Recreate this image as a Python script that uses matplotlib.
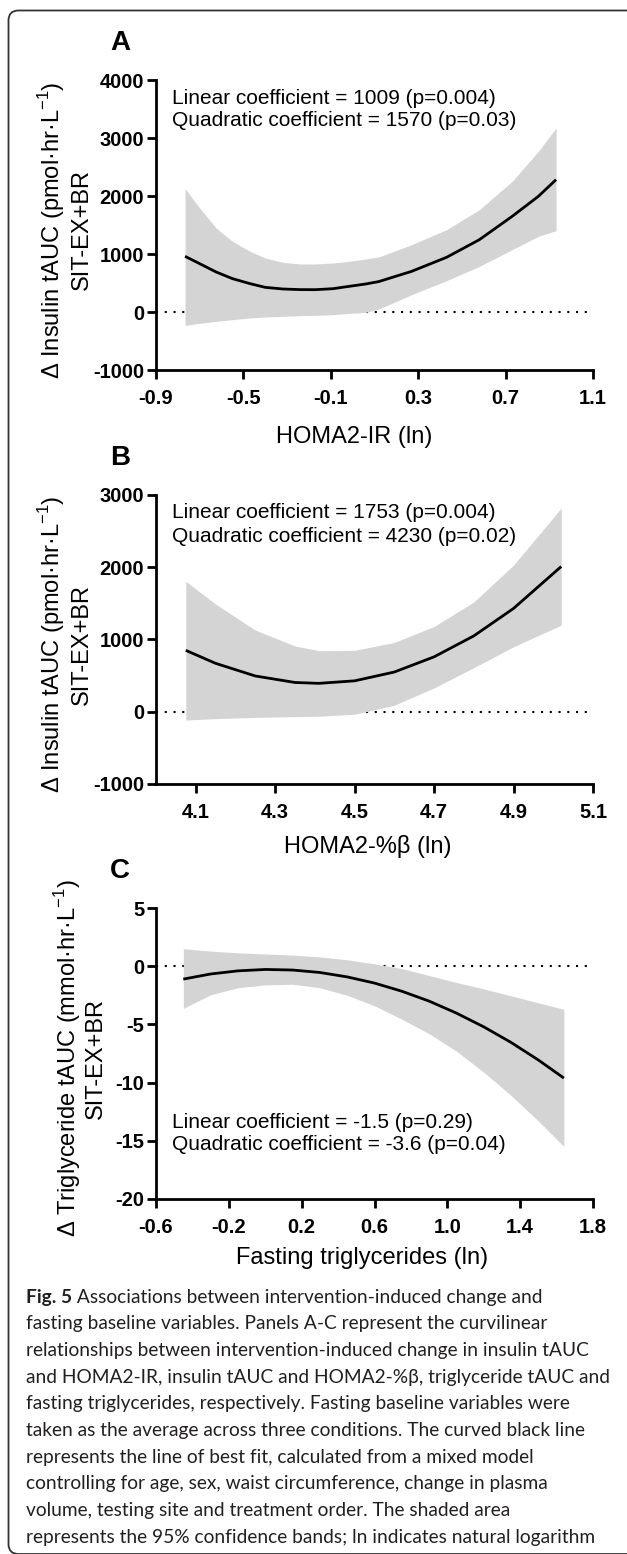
import matplotlib
matplotlib.use("Agg")
import matplotlib.pyplot as plt
from matplotlib.patches import FancyBboxPatch
from matplotlib.ticker import FormatStrFormatter

plt.rcParams['font.family'] = ['Liberation Sans', 'DejaVu Sans']
plt.rcParams['axes.unicode_minus'] = False
plt.rcParams['mathtext.fontset'] = 'custom'
plt.rcParams['mathtext.rm'] = 'Liberation Sans'

W, H = 627, 1554
DPI = 100

# panel A: HOMA2-IR
a_x = [-0.767, -0.70, -0.625, -0.55, -0.47, -0.40, -0.32, -0.24, -0.17, -0.09,
       -0.015, 0.06, 0.12, 0.27, 0.43, 0.58, 0.73, 0.85, 0.931]
a_fit = [960, 833, 690, 575, 489, 425, 397, 386, 385, 402,
         443, 483, 525, 701, 943, 1247, 1649, 1994, 2282]
a_hi = [2126, 1793, 1448, 1218, 1046, 931, 856, 828, 828, 845,
        874, 914, 950, 1161, 1420, 1764, 2253, 2770, 3172]
a_lo = [-230, -195, -161, -132, -103, -86, -75, -63, -57, -46,
        -23, -6, 50, 299, 540, 787, 1075, 1305, 1402]

# panel B: HOMA2-%beta
b_x = [4.075, 4.15, 4.25, 4.35, 4.41, 4.5, 4.6, 4.7, 4.8, 4.9, 5.02]
b_fit = [850, 670, 495, 405, 393, 428, 550, 760, 1050, 1430, 2010]
b_hi = [1806, 1490, 1130, 910, 845, 850, 960, 1180, 1520, 2030, 2820]
b_lo = [-115, -95, -78, -68, -62, -35, 90, 330, 610, 900, 1198]

# panel C: fasting triglycerides
c_x = [-0.45, -0.3, -0.15, 0.0, 0.15, 0.3, 0.45, 0.6, 0.75, 0.9, 1.05, 1.2, 1.35, 1.5, 1.64]
c_fit = [-1.11, -0.67, -0.40, -0.28, -0.33, -0.54, -0.92, -1.45, -2.15, -3.00,
         -4.03, -5.21, -6.55, -8.06, -9.61]
c_hi = [1.5, 1.3, 1.15, 1.05, 0.95, 0.8, 0.55, 0.2, -0.2, -0.8,
        -1.4, -1.95, -2.55, -3.15, -3.7]
c_lo = [-3.63, -2.45, -1.85, -1.6, -1.55, -1.85, -2.5, -3.4, -4.55, -5.8,
        -7.3, -9.1, -11.1, -13.3, -15.49]

a_xticks = [-0.9, -0.5, -0.1, 0.3, 0.7, 1.1]
a_yticks = [-1000, 0, 1000, 2000, 3000, 4000]
b_xticks = [4.1, 4.3, 4.5, 4.7, 4.9, 5.1]
b_yticks = [-1000, 0, 1000, 2000, 3000]
c_xticks = [-0.6, -0.2, 0.2, 0.6, 1.0, 1.4, 1.8]
c_yticks = [-20, -15, -10, -5, 0, 5]

a_notes = ["Linear coefficient = 1009 (p=0.004)", "Quadratic coefficient = 1570 (p=0.03)"]
b_notes = ["Linear coefficient = 1753 (p=0.004)", "Quadratic coefficient = 4230 (p=0.02)"]
c_notes = ["Linear coefficient = -1.5 (p=0.29)", "Quadratic coefficient = -3.6 (p=0.04)"]

ins_label = r"$\Delta$ Insulin tAUC (pmol·hr·L$^{\mathregular{-1}}$)"
tg_label = r"$\Delta$ Triglyceride tAUC (mmol·hr·L$^{\mathregular{-1}}$)"

caption = [
    "fasting baseline variables. Panels A-C represent the curvilinear",
    "relationships between intervention-induced change in insulin tAUC",
    "and HOMA2-IR, insulin tAUC and HOMA2-%β, triglyceride tAUC and",
    "fasting triglycerides, respectively. Fasting baseline variables were",
    "taken as the average across three conditions. The curved black line",
    "represents the line of best fit, calculated from a mixed model",
    "controlling for age, sex, waist circumference, change in plasma",
    "volume, testing site and treatment order. The shaded area",
    "represents the 95% confidence bands; ln indicates natural logarithm",
]

fig = plt.figure(figsize=(W / DPI, H / DPI), dpi=DPI)
bg = fig.add_axes([0, 0, 1, 1])
bg.set_xlim(0, W)
bg.set_ylim(H, 0)
bg.axis('off')

bg.add_patch(FancyBboxPatch((8.5, 10.5), 660, 1543.5,
                            boxstyle='round,pad=0,rounding_size=10',
                            fill=False, ec='#333333', lw=1.3))


def panel(top, bottom, x, fit, lo, hi, xlim, xticks, ylim, yticks,
          letter, notes, note_y, ylab, ylab_x, xlab, xlab_x, xlab_y):
    left, right = 156, 593
    ax = fig.add_axes([left / W, 1 - bottom / H, (right - left) / W, (bottom - top) / H])
    ax.axhline(0, color='black', lw=1.5, linestyle=(0, (1, 3.2)), zorder=1)
    ax.fill_between(x, lo, hi, color='#d4d4d4', lw=0, zorder=2)
    ax.plot(x, fit, color='black', lw=2, zorder=3, solid_capstyle='butt')
    ax.set_xlim(*xlim)
    ax.set_ylim(*ylim)
    ax.set_xticks(xticks)
    ax.set_yticks(yticks)
    ax.xaxis.set_major_formatter(FormatStrFormatter('%.1f'))
    ax.yaxis.set_major_formatter(FormatStrFormatter('%d'))
    for s in ['top', 'right']:
        ax.spines[s].set_visible(False)
    for s in ['left', 'bottom']:
        ax.spines[s].set_linewidth(2)
    ax.tick_params(direction='out', length=6.5, width=2, labelsize=14.5, pad=2)
    ax.tick_params(axis='x', pad=7)
    for lab in ax.get_xticklabels() + ax.get_yticklabels():
        lab.set_fontweight('bold')
    ax.patch.set_alpha(0)

    bg.text(120, top - 37, letter, fontsize=20, fontweight='bold', ha='center', va='center')
    bg.text(172, note_y[0], notes[0], fontsize=15, ha='left', va='center')
    bg.text(172, note_y[1], notes[1], fontsize=15, ha='left', va='center')
    ymid = (top + bottom) / 2 + 5
    bg.text(ylab_x[0], ymid, ylab, fontsize=17, rotation=90, ha='center', va='center')
    bg.text(ylab_x[1], ymid, "SIT-EX+BR", fontsize=17, rotation=90, ha='center', va='center')
    bg.text(xlab_x, xlab_y, xlab, fontsize=17, ha='center', va='center')
    return ax


panel(80, 370, a_x, a_fit, a_lo, a_hi, (-0.9, 1.1), a_xticks, (-1000, 4000), a_yticks,
      'A', a_notes, (98, 120), ins_label, (52, 82), "HOMA2-IR (ln)", 354, 437)
panel(495, 784, b_x, b_fit, b_lo, b_hi, (4.0, 5.1), b_xticks, (-1000, 3000), b_yticks,
      'B', b_notes, (513, 536), ins_label, (52, 82), "HOMA2-%β (ln)", 368, 847)
panel(908, 1199, c_x, c_fit, c_lo, c_hi, (-0.6, 1.8), c_xticks, (-20, 5), c_yticks,
      'C', c_notes, (1123, 1145), tg_label, (68, 96), "Fasting triglycerides (ln)", 362, 1258)

# caption
cap_font = ['Lato', 'DejaVu Sans']
cap_size = 13.8
cap_col = '#231f20'
fig_t = bg.text(26, 1297, "Fig. 5", fontsize=cap_size, fontweight='bold', family=cap_font,
                color=cap_col, ha='left', va='center')
r = fig.canvas.get_renderer()
x_end = fig_t.get_window_extent(renderer=r).x1
bg.text(x_end, 1297, " Associations between intervention-induced change and", fontsize=cap_size,
        family=cap_font, color=cap_col, ha='left', va='center')
for i, line in enumerate(caption):
    bg.text(26, 1297 + 26.67 * (i + 1), line, fontsize=cap_size, family=cap_font,
            color=cap_col, ha='left', va='center')

fig.savefig('out.png', dpi=DPI)
